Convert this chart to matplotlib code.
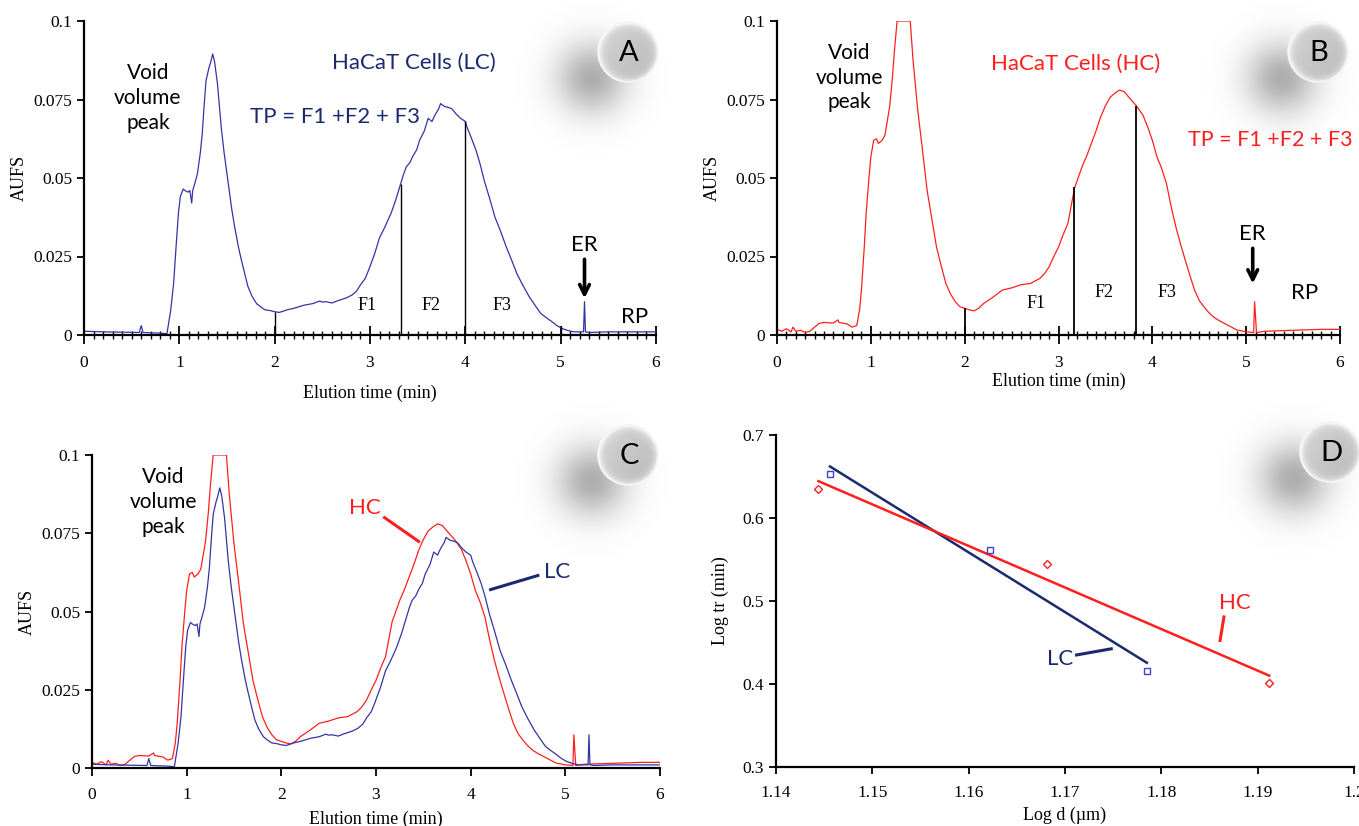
import numpy as np
import matplotlib.pyplot as plt
from matplotlib.patches import Circle

# ---- data (time in min, AUFS) ----
lc_t = [0, 0.2, 0.4, 0.58, 0.6, 0.62, 0.8, 0.87, 0.91, 0.94, 0.97, 0.99, 1.01, 1.04,
        1.06, 1.09, 1.11, 1.13, 1.14, 1.16, 1.19, 1.22, 1.24, 1.26, 1.28, 1.31, 1.33,
        1.35, 1.37, 1.40, 1.42, 1.44, 1.47, 1.51, 1.55, 1.58, 1.62, 1.65, 1.69, 1.72,
        1.76, 1.81, 1.86, 1.90, 1.95, 2.0, 2.05, 2.13, 2.2, 2.31, 2.4, 2.47, 2.5, 2.54,
        2.6, 2.67, 2.75, 2.81, 2.86, 2.9, 2.95, 2.99, 3.05, 3.1, 3.15, 3.22, 3.27, 3.31,
        3.35, 3.38, 3.42, 3.45, 3.49, 3.52, 3.57, 3.61, 3.65, 3.68, 3.72, 3.74, 3.78,
        3.82, 3.86, 3.9, 3.95, 4.0, 4.02, 4.06, 4.11, 4.15, 4.2, 4.25, 4.31, 4.37, 4.43,
        4.49, 4.54, 4.6, 4.67, 4.73, 4.79, 4.85, 4.91, 4.96, 5.02, 5.08, 5.14, 5.2, 5.24,
        5.25, 5.26, 5.3, 5.5, 5.8, 6.0]
lc_v = [0.0012, 0.001, 0.0009, 0.0008, 0.003, 0.0008, 0.0006, 0.0004, 0.008, 0.0164,
        0.030, 0.0387, 0.044, 0.0465, 0.046, 0.0455, 0.046, 0.042, 0.046, 0.048, 0.0514,
        0.058, 0.064, 0.073, 0.081, 0.085, 0.087, 0.0895, 0.087, 0.080, 0.073, 0.066,
        0.058, 0.049, 0.040, 0.0345, 0.028, 0.024, 0.019, 0.0154, 0.0125, 0.010, 0.0088,
        0.008, 0.0078, 0.0074, 0.0072, 0.008, 0.0085, 0.0095, 0.010, 0.0108, 0.0105,
        0.0106, 0.0102, 0.011, 0.0118, 0.0127, 0.014, 0.016, 0.018, 0.021, 0.026, 0.031,
        0.034, 0.0387, 0.043, 0.047, 0.051, 0.0535, 0.055, 0.057, 0.059, 0.062, 0.065,
        0.069, 0.068, 0.070, 0.072, 0.0737, 0.0728, 0.0725, 0.072, 0.0705, 0.069, 0.068,
        0.066, 0.063, 0.059, 0.055, 0.049, 0.044, 0.0376, 0.033, 0.028, 0.0235, 0.0196,
        0.016, 0.0122, 0.0095, 0.0069, 0.0055, 0.0042, 0.003, 0.002, 0.0014, 0.001,
        0.001, 0.001, 0.0106, 0.001, 0.0008, 0.001, 0.001, 0.001]

hc_t = [0, 0.05, 0.1, 0.15, 0.17, 0.2, 0.25, 0.3, 0.35, 0.4, 0.45, 0.5, 0.6, 0.65, 0.66,
        0.75, 0.8, 0.85, 0.88, 0.9, 0.93, 0.95, 0.98, 1.0, 1.03, 1.06, 1.08, 1.12, 1.15,
        1.2, 1.23, 1.25, 1.28, 1.42, 1.45, 1.5, 1.55, 1.6, 1.65, 1.7, 1.75, 1.8, 1.85,
        1.9, 1.95, 2.0, 2.05, 2.1, 2.15, 2.2, 2.3, 2.4, 2.5, 2.6, 2.7, 2.8, 2.85, 2.9,
        2.95, 3.0, 3.05, 3.1, 3.17, 3.25, 3.3, 3.35, 3.4, 3.45, 3.5, 3.55, 3.6, 3.65,
        3.7, 3.75, 3.8, 3.83, 3.9, 3.95, 4.0, 4.05, 4.1, 4.15, 4.2, 4.25, 4.3, 4.35, 4.4,
        4.45, 4.5, 4.55, 4.6, 4.65, 4.7, 4.8, 4.9, 5.0, 5.08, 5.09, 5.11, 5.2, 5.5, 5.8,
        6.0]
hc_v = [0.0018, 0.0012, 0.002, 0.001, 0.0025, 0.0012, 0.0015, 0.0008, 0.0012, 0.0025,
        0.0037, 0.004, 0.0038, 0.0048, 0.004, 0.0035, 0.0025, 0.003, 0.008, 0.0143,
        0.028, 0.0387, 0.050, 0.0567, 0.062, 0.0625, 0.061, 0.062, 0.0636, 0.0726,
        0.082, 0.090, 0.1, 0.1, 0.0875, 0.0716, 0.059, 0.046, 0.037, 0.028, 0.022,
        0.0164, 0.013, 0.0106, 0.009, 0.0085, 0.008, 0.0077, 0.0085, 0.010, 0.012,
        0.0143, 0.015, 0.016, 0.0164, 0.018, 0.0195, 0.0217, 0.025, 0.028, 0.032,
        0.0355, 0.0467, 0.0535, 0.057, 0.061, 0.065, 0.0695, 0.073, 0.0757, 0.077,
        0.078, 0.0775, 0.0757, 0.074, 0.073, 0.070, 0.0663, 0.062, 0.0567, 0.053,
        0.0483, 0.041, 0.0345, 0.029, 0.0239, 0.019, 0.0143, 0.011, 0.009, 0.0072,
        0.0058, 0.0048, 0.0032, 0.0016, 0.001, 0.0008, 0.0106, 0.0008, 0.0012, 0.0015,
        0.0018, 0.0018]

# fraction cut points (min) and their heights
lc_cuts = [2.0, 3.32, 4.0, 5.0]
lc_cut_h = [0.0074, 0.048, 0.068, 0.003]
hc_cuts = [2.0, 3.17, 3.83]
hc_cut_h = [0.0085, 0.047, 0.073]

# panel D: log d vs log tr
lc_logd = [1.1456, 1.1622, 1.1785]
lc_logtr = [0.6527, 0.5617, 0.416]
hc_logd = [1.1444, 1.1681, 1.1912]
hc_logtr = [0.6353, 0.5443, 0.4007]

aufs_ticks = [0, 0.025, 0.05, 0.075, 0.1]
aufs_labels = ['0', '0.025', '0.05', '0.075', '0.1']
time_ticks = [0, 1, 2, 3, 4, 5, 6]
logd_ticks = [1.14, 1.15, 1.16, 1.17, 1.18, 1.19, 1.2]
logd_labels = ['1.14', '1.15', '1.16', '1.17', '1.18', '1.19', '1.2']
logtr_ticks = [0.3, 0.4, 0.5, 0.6, 0.7]

BLUE = '#3434a6'
NAVY = '#1b2a6e'
RED = '#ff1f1f'
SERIF = 'Liberation Serif'
SANS = 'Lato'
ANNO = 16

W, H = 1359, 826
fig = plt.figure(figsize=(13.59, 8.26), dpi=100)


def px_axes(x0, x1, y0, y1):
    return fig.add_axes([x0 / W, 1 - y1 / H, (x1 - x0) / W, (y1 - y0) / H])


def style(ax):
    for s in ['top', 'right']:
        ax.spines[s].set_visible(False)
    for s in ['left', 'bottom']:
        ax.spines[s].set_linewidth(1.6)
    ax.tick_params(axis='y', direction='out', length=5, width=1.3)
    for lab in ax.get_xticklabels() + ax.get_yticklabels():
        lab.set_fontfamily(SERIF)
        lab.set_fontsize(12.5)


def chrom_axes(ax, minor=True):
    ax.set_xlim(0, 6)
    ax.set_ylim(0, 0.1)
    ax.set_xticks(time_ticks)
    ax.set_yticks(aufs_ticks, aufs_labels)
    if minor:
        ax.set_xticks(np.arange(0, 6.01, 0.1), minor=True)
        ax.tick_params(axis='x', which='major', direction='inout', length=13, width=1.3, pad=8)
        ax.tick_params(axis='x', which='minor', direction='inout', length=6, width=1.0)
    else:
        ax.tick_params(axis='x', which='major', direction='out', length=6, width=1.3, pad=8)
    style(ax)
    ax.set_ylabel('AUFS', fontfamily=SERIF, fontsize=13, labelpad=4)


def void_label(ax, x, y):
    ax.text(x, y, 'Void\nvolume\npeak', ha='center', va='center', fontfamily=SANS,
            fontsize=15, linespacing=1.3, color='black')


def er_rp(ax, x_er, y_txt, y_tip, x_rp, y_rp):
    ax.text(x_er, y_txt, 'ER', ha='center', va='bottom', fontfamily=SANS, fontsize=ANNO)
    ax.annotate('', xy=(x_er, y_tip), xytext=(x_er, y_txt - 0.0005),
                arrowprops=dict(arrowstyle='->,head_width=0.35,head_length=0.7',
                                lw=2.6, color='black'))
    ax.text(x_rp, y_rp, 'RP', ha='center', va='center', fontfamily=SANS, fontsize=ANNO)


# ---- A ----
axA = px_axes(84, 656, 21, 335)
chrom_axes(axA)
axA.plot(lc_t, lc_v, color=BLUE, lw=0.9)
axA.vlines(lc_cuts, 0, lc_cut_h, color='black', lw=1.0)
axA.set_xlabel('Elution time (min)', fontfamily=SERIF, fontsize=13, labelpad=10)
void_label(axA, 0.67, 0.0755)
axA.text(3.46, 0.0866, 'HaCaT Cells (LC)', ha='center', va='center', fontfamily=SANS,
         fontsize=ANNO, color=NAVY)
axA.text(2.63, 0.0695, 'TP = F1 +F2 + F3', ha='center', va='center', fontfamily=SANS,
         fontsize=ANNO, color=NAVY)
for x, lab in zip([2.97, 3.64, 4.38], ['F1', 'F2', 'F3']):
    axA.text(x, 0.0095, lab, ha='center', va='center', fontfamily=SERIF, fontsize=13)
er_rp(axA, 5.25, 0.0255, 0.0108, 5.77, 0.0058)

# ---- B ----
axB = px_axes(777, 1340, 21, 335)
chrom_axes(axB)
axB.plot(hc_t, hc_v, color=RED, lw=0.9)
axB.vlines(hc_cuts, 0, hc_cut_h, color='black', lw=1.3)
axB.set_xlabel('Elution time (min)', fontfamily=SERIF, fontsize=13, labelpad=1)
void_label(axB, 0.77, 0.082)
axB.text(3.18, 0.0864, 'HaCaT Cells (HC)', ha='center', va='center', fontfamily=SANS,
         fontsize=ANNO, color=RED)
axB.text(4.38, 0.062, 'TP = F1 +F2 + F3', ha='left', va='center', fontfamily=SANS,
         fontsize=15.5, color=RED, clip_on=False)
for x, y, lab in zip([2.76, 3.49, 4.16], [0.0099, 0.0135, 0.0135], ['F1', 'F2', 'F3']):
    axB.text(x, y, lab, ha='center', va='center', fontfamily=SERIF, fontsize=13)
er_rp(axB, 5.07, 0.029, 0.0155, 5.62, 0.0135)

# ---- C ----
axC = px_axes(92, 660, 455, 768)
chrom_axes(axC, minor=False)
axC.plot(hc_t, hc_v, color=RED, lw=0.9)
axC.plot(lc_t, lc_v, color=BLUE, lw=0.9)
axC.set_xlabel('Elution time (min)', fontfamily=SERIF, fontsize=13, labelpad=5)
void_label(axC, 0.75, 0.085)
axC.text(2.88, 0.0832, 'HC', ha='center', va='center', fontfamily=SANS, fontsize=ANNO, color=RED)
axC.plot([3.09, 3.45], [0.080, 0.0724], color=RED, lw=2.2)
axC.text(4.91, 0.0625, 'LC', ha='center', va='center', fontfamily=SANS, fontsize=ANNO, color=NAVY)
axC.plot([4.21, 4.71], [0.057, 0.0615], color=NAVY, lw=2.2)

# ---- D ----
axD = px_axes(776, 1354, 435, 767)
axD.set_xlim(1.14, 1.2)
axD.set_ylim(0.3, 0.7)
axD.set_xticks(logd_ticks, logd_labels)
axD.set_yticks(logtr_ticks)
axD.tick_params(axis='x', direction='out', length=5, width=1.3, pad=8)
style(axD)
for xs, ys, col in [(lc_logd, lc_logtr, NAVY), (hc_logd, hc_logtr, RED)]:
    k, b = np.polyfit(xs, ys, 1)
    xx = np.array([min(xs), max(xs)])
    axD.plot(xx, k * xx + b, color=col, lw=1.8)
axD.plot(lc_logd, lc_logtr, 's', ms=5, mfc='none', mec='#4040c8', mew=1.0)
axD.plot(hc_logd, hc_logtr, 'D', ms=4, mfc='none', mec=RED, mew=1.0)
axD.set_xlabel('Log d (\u00b5m)', fontfamily=SERIF, fontsize=13, labelpad=4)
axD.set_ylabel('Log tr (min)', fontfamily=SERIF, fontsize=13, labelpad=10)
axD.text(1.1876, 0.4978, 'HC', ha='center', va='center', fontfamily=SANS, fontsize=ANNO, color=RED)
axD.plot([1.1865, 1.1861], [0.4808, 0.4525], color=RED, lw=2.2)
axD.text(1.1695, 0.430, 'LC', ha='center', va='center', fontfamily=SANS, fontsize=ANNO, color=NAVY)
axD.plot([1.1712, 1.1748], [0.435, 0.4424], color=NAVY, lw=2.2)

# ---- glossy panel badges ----
ov = fig.add_axes([0, 0, 1, 1], zorder=10)
ov.axis('off')
ov.patch.set_alpha(0)

gy, gx = np.mgrid[-1:1:240j, -1:1:240j]
rr = np.hypot(gx, gy)


def badge(cx, cy, letter, r=30):
    # soft shadow to the lower left, fading to nothing at the image border
    sx, sy, sr = cx - 36, cy + 26, 85
    sh = np.zeros((240, 240, 4))
    sh[..., :3] = 0.42
    sh[..., 3] = 0.55 * np.exp(-(rr * 2.4) ** 2)
    ov.imshow(sh, extent=(sx - sr, sx + sr, sy + sr, sy - sr), interpolation='bilinear')
    # sphere with bright rim
    shade = 0.78 - 0.03 * (gx + gy) + 0.2 * rr ** 8
    img = np.dstack([np.clip(shade, 0, 1)] * 3)
    im = ov.imshow(img, extent=(cx - r, cx + r, cy + r, cy - r), interpolation='bilinear')
    im.set_clip_path(Circle((cx, cy), r, transform=ov.transData))
    ov.add_patch(Circle((cx, cy), r, fill=False, ec='#f4f4f4', lw=1.2))
    ov.text(cx + 1, cy + 1, letter, ha='center', va='center', fontfamily=SANS, fontsize=21)


badge(628, 52, 'A')
badge(1318, 52, 'B')
badge(628, 455, 'C')
badge(1330, 452, 'D')
ov.set_xlim(0, W)
ov.set_ylim(H, 0)

fig.savefig('out.png', dpi=100)
